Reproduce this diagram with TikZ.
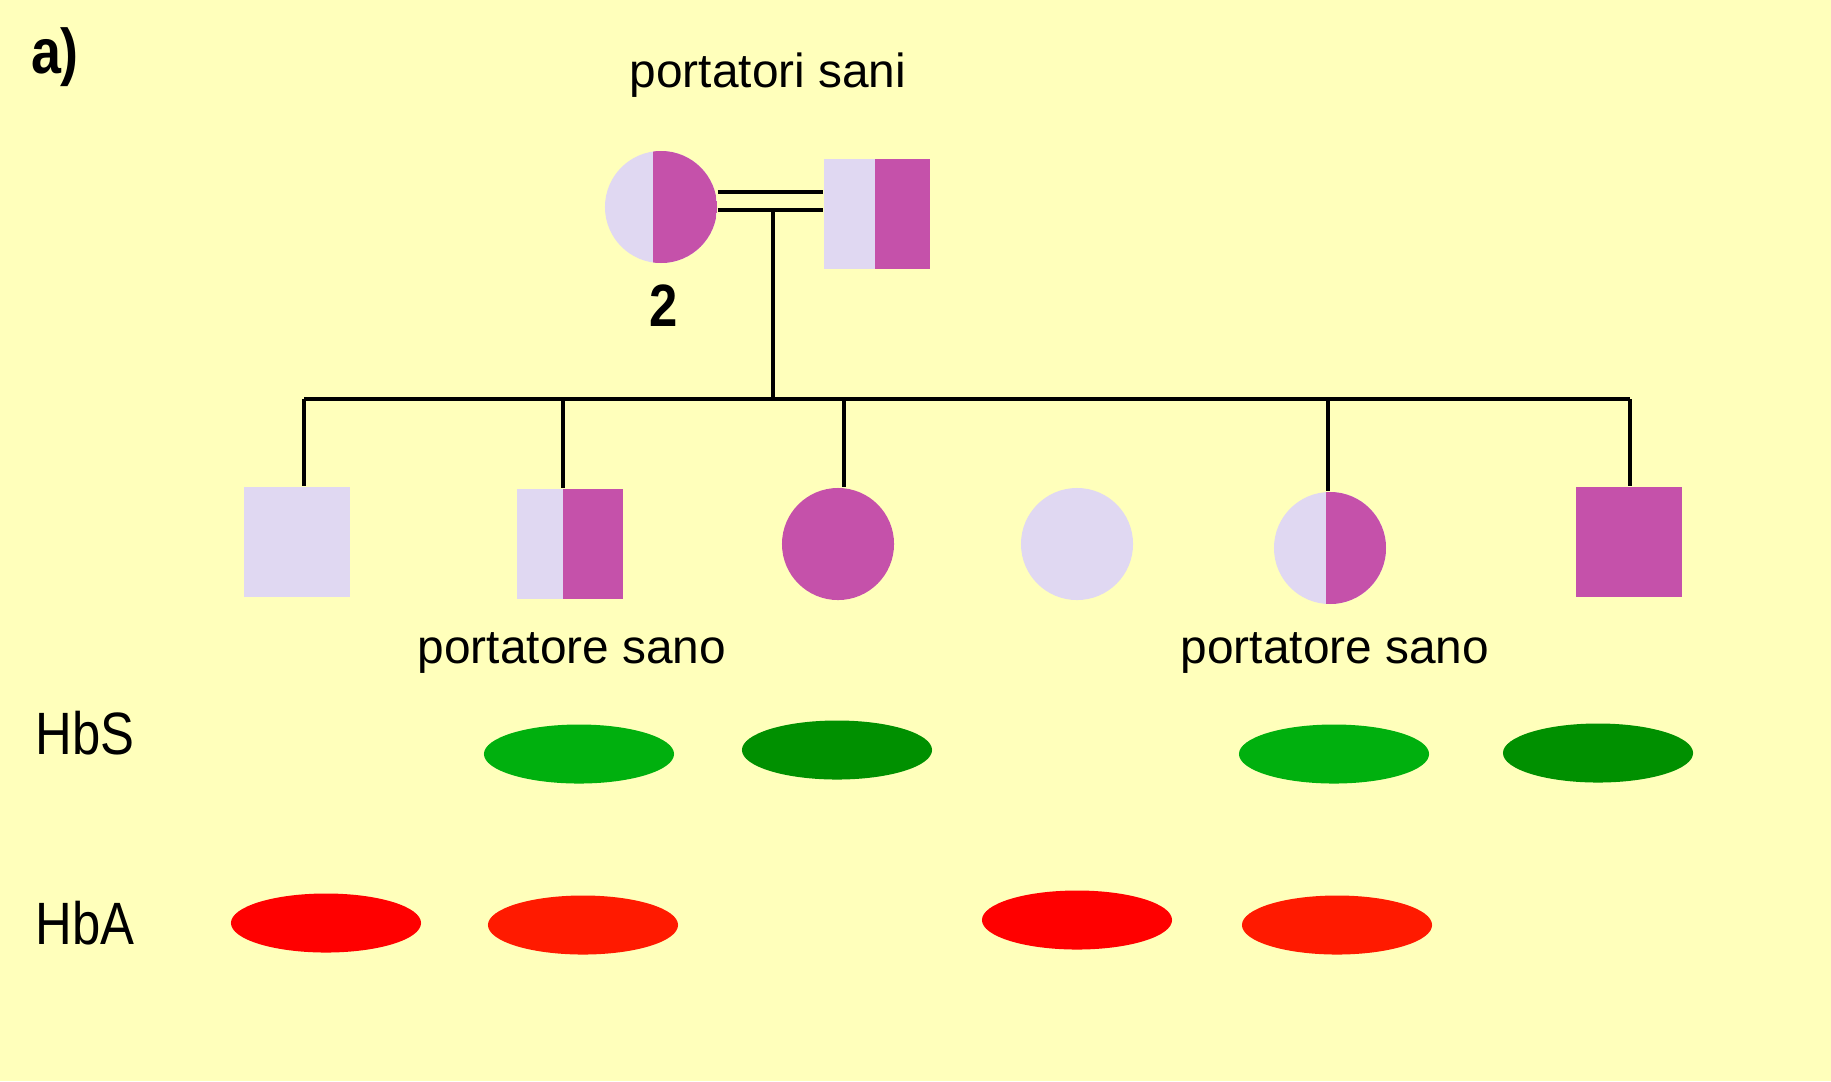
\documentclass[tikz,border=0pt]{standalone}
\usepackage{fontspec}
\setmainfont{Liberation Sans}
\newfontfamily\condfont[FakeStretch=0.85]{Liberation Sans}
\usetikzlibrary{shapes.geometric}
\definecolor{bgyellow}{HTML}{FFFFBB}
\definecolor{lav}{HTML}{E0D8F2}
\definecolor{mag}{HTML}{C551AA}
\definecolor{lgreen}{HTML}{00B00E}
\definecolor{dgreen}{HTML}{009000}
\definecolor{hbred}{HTML}{FF0000}
\definecolor{hbored}{HTML}{FF1A00}

\begin{document}
\begin{tikzpicture}[x=0.01cm, y=-0.01cm,
    female/.style={circle, inner sep=0pt, minimum size=1.12cm},
    male/.style={rectangle, inner sep=0pt, minimum width=1.06cm, minimum height=1.1cm},
    healthy/.style={fill=lav},
    sick/.style={fill=mag},
    carrier/.style={fill=lav, path picture={\fill[mag] ([xshift=#1]path picture bounding box.north) rectangle (path picture bounding box.south east);}},
    carrier/.default=0pt,
    band/.style={ellipse, inner sep=0pt, minimum width=1.9cm, minimum height=0.59cm},
    link/.style={line width=1.1pt},
    note/.style={font=\fontsize{13.6}{16}\selectfont},
    hb/.style={font=\condfont\fontsize{17}{20}\selectfont, inner sep=0pt}]
    % background
    \fill[bgyellow] (0,0) rectangle (1831,1081);
    \node[font=\condfont\bfseries\fontsize{18}{21}\selectfont] (tag) at (55,57) {a)};
    % Nodes
    \node[female, carrier=-0.8mm] (mom) at (661,207) {};
    \node[male, carrier=-0.2mm] (dad) at (877,214) {};
    \node[note, anchor=base] (par) at (768,87) {portatori sani};
    \node[font=\condfont\bfseries\fontsize{17}{20}\selectfont] (num) at (664,306) {2};
    \node[male, healthy] (c1) at (297,542) {};
    \node[male, carrier=-0.7mm] (c2) at (570,544) {};
    \node[female, sick] (c3) at (838,544) {};
    \node[female, healthy] (c4) at (1077,544) {};
    \node[female, carrier=-0.4mm] (c5) at (1330,548) {};
    \node[male, sick] (c6) at (1629,542) {};
    \node[note, anchor=base] (car1) at (572,663) {portatore sano};
    \node[note, anchor=base] (car2) at (1335,663) {portatore sano};
    % Edges
    \coordinate (mid) at (773,210);
    \coordinate (sib) at (773,399);
    \draw[link] ([yshift=1.5mm]mom.east) -- ([yshift=1.5mm]mom.east -| dad.west);
    \draw[link] ([yshift=-0.3mm]mom.east) -- ([yshift=-0.3mm]mom.east -| dad.west);
    \draw[link] (mid) -- (sib);
    \draw[link] ([xshift=0.7mm]c1.north |- sib) -- ([xshift=0.1mm]c6.north |- sib);
    \foreach \c/\dx in {c1/0.7mm, c2/-0.7mm, c3/0.6mm, c5/-0.2mm, c6/0.1mm}
        \draw[link] ([xshift=\dx]\c.north |- sib) -- ([xshift=\dx]\c.north);
    % Bands
    \node[hb, anchor=base west] (hbs) at (35,754) {HbS};
    \node[hb, anchor=base west] (hba) at (35,944) {HbA};
    \node[band, fill=lgreen] (s2) at (579,754) {};
    \node[band, fill=dgreen] (s3) at (837,750) {};
    \node[band, fill=lgreen] (s5) at (1334,754) {};
    \node[band, fill=dgreen] (s6) at (1598,753) {};
    \node[band, fill=hbred] (a1) at (326,923) {};
    \node[band, fill=hbored] (a2) at (583,925) {};
    \node[band, fill=hbred] (a4) at (1077,920) {};
    \node[band, fill=hbored] (a5) at (1337,925) {};
\end{tikzpicture}
\end{document}
